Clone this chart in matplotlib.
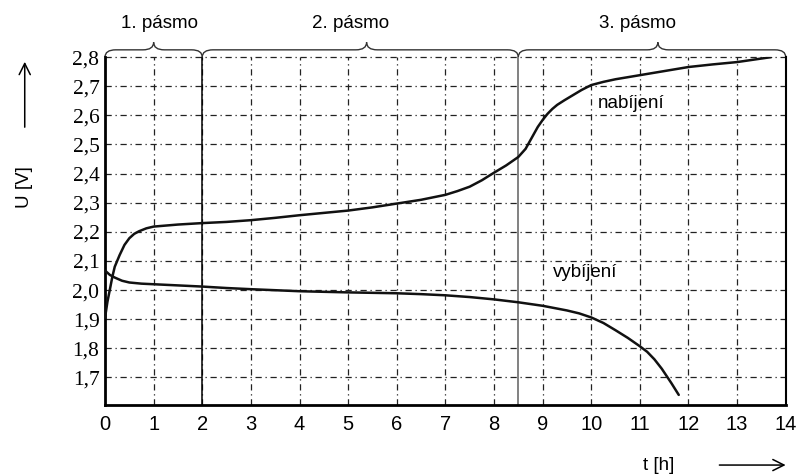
import matplotlib
matplotlib.use("Agg")
import matplotlib.pyplot as plt
from matplotlib.path import Path
from matplotlib.patches import PathPatch, FancyArrowPatch

# charging curve (nabíjení)
t_charge = [0.0, 0.05, 0.1, 0.15, 0.2, 0.3, 0.4, 0.5, 0.6, 0.7, 0.85, 1.0,
            1.5, 2.0, 2.5, 3.0, 3.5, 4.0, 4.5, 5.0, 5.5, 6.0, 6.5, 7.0, 7.25,
            7.5, 7.75, 8.0, 8.25, 8.5, 8.65, 8.8, 8.9, 9.0, 9.1, 9.2, 9.3,
            9.45, 9.6, 9.8, 10.0, 10.25, 10.5, 11.0, 11.5, 12.0, 12.5, 13.0,
            13.7]
u_charge = [1.905, 1.96, 2.002, 2.045, 2.08, 2.12, 2.155, 2.178, 2.193, 2.202,
            2.212, 2.218, 2.225, 2.23, 2.234, 2.24, 2.248, 2.257, 2.265, 2.273,
            2.284, 2.297, 2.31, 2.327, 2.34, 2.355, 2.377, 2.403, 2.428, 2.457,
            2.485, 2.53, 2.56, 2.584, 2.605, 2.622, 2.636, 2.652, 2.667, 2.687,
            2.704, 2.715, 2.724, 2.738, 2.752, 2.766, 2.775, 2.783, 2.80]

# discharging curve (vybíjení)
t_discharge = [0.0, 0.1, 0.2, 0.35, 0.5, 0.75, 1.0, 1.5, 2.0, 2.5, 3.0, 4.0,
               5.0, 6.0, 6.5, 7.0, 7.5, 8.0, 8.5, 9.0, 9.5, 9.75, 10.0, 10.25,
               10.5, 10.75, 11.0, 11.15, 11.3, 11.45, 11.55, 11.65, 11.8]
u_discharge = [2.067, 2.052, 2.043, 2.032, 2.026, 2.022, 2.02, 2.016, 2.012,
               2.007, 2.003, 1.996, 1.992, 1.989, 1.986, 1.982, 1.976, 1.968,
               1.958, 1.946, 1.93, 1.92, 1.906, 1.887, 1.862, 1.836, 1.807,
               1.788, 1.762, 1.73, 1.705, 1.68, 1.64]

# zones
band_edges = [0, 2, 8.5, 14]
band_tips = [1.0, 5.38, 11.37]
band_labels = ["1. pásmo", "2. pásmo", "3. pásmo"]
band_label_x = [1.13, 5.04, 10.96]

x_ticks = list(range(0, 15))
y_ticks = [1.7, 1.8, 1.9, 2.0, 2.1, 2.2, 2.3, 2.4, 2.5, 2.6, 2.7, 2.8]

SANS = "Liberation Sans"
SERIF = "Liberation Serif"
FS = 13.5
DASHDOT = (0, (5, 3, 1, 3))


def brace(ax, x0, x1, xt, y0=2.80, y1=2.825, y2=2.851, r=0.22):
    verts = [(x0, y0), (x0, y1), (x0 + r, y1),
             (xt - r, y1), (xt, y1), (xt, y2),
             (xt, y1), (xt + r, y1),
             (x1 - r, y1), (x1, y1), (x1, y0)]
    codes = [Path.MOVETO, Path.CURVE3, Path.CURVE3,
             Path.LINETO, Path.CURVE3, Path.CURVE3,
             Path.CURVE3, Path.CURVE3,
             Path.LINETO, Path.CURVE3, Path.CURVE3]
    ax.add_patch(PathPatch(Path(verts, codes), fill=False, lw=1.0,
                           edgecolor="#333333", clip_on=False))


fig = plt.figure(figsize=(7.98, 4.76), dpi=100)
ax = fig.add_axes([0.1316, 0.149, 0.853, 0.731])

ax.set_xlim(0, 14)
ax.set_ylim(1.605, 2.8)

# grid
for x in x_ticks[1:-1]:
    ax.plot([x, x], [1.605, 2.8], color="#222222", lw=0.9,
            linestyle=DASHDOT, zorder=1)
for y in y_ticks:
    ax.plot([0, 14], [y, y], color="#222222", lw=0.9,
            linestyle=DASHDOT, zorder=1, clip_on=False)

# zone separators
ax.plot([2, 2], [1.605, 2.8], color="black", lw=1.1, zorder=2)
ax.plot([8.5, 8.5], [1.605, 2.8], color="#777777", lw=1.3, zorder=2)

ax.plot(t_charge, u_charge, color="#111111", lw=1.8, zorder=3,
        solid_capstyle="round", solid_joinstyle="round")
ax.plot(t_discharge, u_discharge, color="#111111", lw=1.8, zorder=3,
        solid_capstyle="round", solid_joinstyle="round")

ax.text(10.14, 2.642, "nabíjení", family=SANS, fontsize=FS, va="center")
ax.text(9.21, 2.06, "vybíjení", family=SANS, fontsize=FS, va="center")

for i in range(3):
    brace(ax, band_edges[i], band_edges[i + 1], band_tips[i])
    ax.text(band_label_x[i], 2.915, band_labels[i], family=SANS,
            fontsize=FS, ha="center", va="center", clip_on=False)

ax.spines["top"].set_visible(False)
ax.spines["left"].set_linewidth(2.0)
ax.spines["bottom"].set_linewidth(2.0)
ax.spines["right"].set_linewidth(1.5)

ax.set_xticks(x_ticks)
ax.set_xticklabels([str(x) for x in x_ticks], family=SANS, fontsize=FS + 1)
ax.set_yticks(y_ticks)
ax.set_yticklabels([f"{y:.1f}".replace(".", ",") for y in y_ticks],
                   family=SERIF, fontsize=FS + 2)
ax.tick_params(length=0, pad=4)
ax.tick_params(axis="x", pad=7)

fig.text(0.031, 0.607, "U [V]", family=SANS, fontsize=FS, rotation=90,
         ha="center", va="center")
fig.text(0.825, 0.023, "t [h]", family=SANS, fontsize=FS,
         ha="center", va="center")
fig.add_artist(FancyArrowPatch(
    (0.031, 0.727), (0.031, 0.876), transform=fig.transFigure,
    arrowstyle="->,head_length=8,head_width=4", lw=1.1, color="black"))
fig.add_artist(FancyArrowPatch(
    (0.898, 0.023), (0.988, 0.023), transform=fig.transFigure,
    arrowstyle="->,head_length=8,head_width=4", lw=1.1, color="black"))

fig.savefig("out.png", dpi=100, facecolor="white")
